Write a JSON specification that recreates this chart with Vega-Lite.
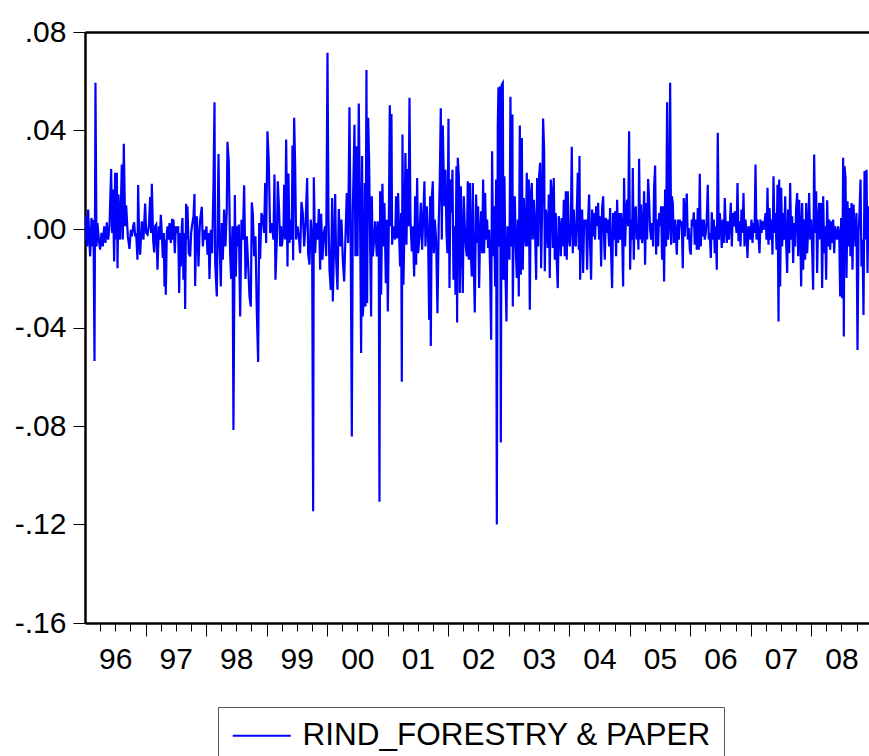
{
"$schema":"https://vega.github.io/schema/vega-lite/v6.json",
"autosize":{"type":"none"},
"padding":{"left":85,"top":32,"right":0,"bottom":133},
"width":784,
"height":591,
"background":"white",
"config":{"view":{"stroke":null},"axis":{"grid":false,"labelFont":"Liberation Sans","labelColor":"black","tickColor":"black","domainColor":"black"}},
"data":{"values":[
{"year":1996.003,"ret":-0.0043},{"year":1996.019,"ret":0.0052},{"year":1996.036,"ret":-0.0071},{"year":1996.052,"ret":0.0079},{"year":1996.069,"ret":-0.003},{"year":1996.085,"ret":-0.0111},{"year":1996.107,"ret":0.0045},{"year":1996.129,"ret":-0.0071},{"year":1996.14,"ret":0.0038},{"year":1996.157,"ret":-0.0536},{"year":1996.173,"ret":0.0594},{"year":1996.19,"ret":-0.0071},{"year":1996.206,"ret":0.0024},{"year":1996.228,"ret":-0.0043},{"year":1996.25,"ret":-0.0084},{"year":1996.272,"ret":-0.0016},{"year":1996.294,"ret":-0.0071},{"year":1996.317,"ret":0.0011},{"year":1996.339,"ret":-0.0057},{"year":1996.361,"ret":0.0027},{"year":1996.383,"ret":-0.0043},{"year":1996.405,"ret":0.0011},{"year":1996.432,"ret":0.0244},{"year":1996.449,"ret":-0.0016},{"year":1996.46,"ret":0.016},{"year":1996.482,"ret":-0.0132},{"year":1996.498,"ret":0.0228},{"year":1996.515,"ret":-0.0043},{"year":1996.526,"ret":0.0228},{"year":1996.537,"ret":-0.0159},{"year":1996.553,"ret":0.014},{"year":1996.581,"ret":-0.0043},{"year":1996.608,"ret":0.0262},{"year":1996.625,"ret":-0.0043},{"year":1996.641,"ret":0.0346},{"year":1996.663,"ret":0.0011},{"year":1996.68,"ret":0.0096},{"year":1996.708,"ret":-0.003},{"year":1996.735,"ret":-0.0081},{"year":1996.757,"ret":-0.0003},{"year":1996.774,"ret":-0.003},{"year":1996.796,"ret":0.0011},{"year":1996.812,"ret":0.0027},{"year":1996.829,"ret":-0.003},{"year":1996.845,"ret":-0.0016},{"year":1996.867,"ret":-0.0125},{"year":1996.878,"ret":0.0179},{"year":1996.895,"ret":-0.0043},{"year":1996.911,"ret":-0.0104},{"year":1996.939,"ret":0.0031},{"year":1996.966,"ret":-0.0043},{"year":1996.994,"ret":0.0103},{"year":1997.011,"ret":-0.0016},{"year":1997.033,"ret":-0.0023},{"year":1997.055,"ret":0.0011},{"year":1997.077,"ret":0.013},{"year":1997.093,"ret":-0.0016},{"year":1997.104,"ret":0.0184},{"year":1997.126,"ret":-0.0043},{"year":1997.143,"ret":-0.0095},{"year":1997.159,"ret":0.0011},{"year":1997.176,"ret":0.0018},{"year":1997.198,"ret":-0.0165},{"year":1997.22,"ret":0.0011},{"year":1997.236,"ret":-0.0043},{"year":1997.253,"ret":0.0058},{"year":1997.269,"ret":-0.0016},{"year":1997.286,"ret":-0.0118},{"year":1997.302,"ret":-0.0016},{"year":1997.313,"ret":-0.0233},{"year":1997.324,"ret":-0.0043},{"year":1997.335,"ret":-0.0267},{"year":1997.352,"ret":-0.0016},{"year":1997.363,"ret":0.0011},{"year":1997.38,"ret":-0.0043},{"year":1997.396,"ret":0.0024},{"year":1997.418,"ret":-0.0057},{"year":1997.44,"ret":0.0041},{"year":1997.451,"ret":-0.0043},{"year":1997.462,"ret":0.0038},{"year":1997.484,"ret":-0.0098},{"year":1997.501,"ret":0.0011},{"year":1997.517,"ret":-0.0016},{"year":1997.539,"ret":0.0011},{"year":1997.556,"ret":-0.026},{"year":1997.572,"ret":-0.0016},{"year":1997.583,"ret":-0.0152},{"year":1997.6,"ret":0.0011},{"year":1997.611,"ret":0.0045},{"year":1997.627,"ret":-0.0206},{"year":1997.644,"ret":-0.0016},{"year":1997.655,"ret":-0.0325},{"year":1997.671,"ret":0.0102},{"year":1997.682,"ret":-0.0043},{"year":1997.693,"ret":0.0092},{"year":1997.715,"ret":-0.0098},{"year":1997.738,"ret":-0.0111},{"year":1997.754,"ret":-0.0016},{"year":1997.771,"ret":0.0018},{"year":1997.793,"ret":0.0052},{"year":1997.809,"ret":0.0142},{"year":1997.82,"ret":-0.0231},{"year":1997.837,"ret":-0.0016},{"year":1997.848,"ret":0.0052},{"year":1997.864,"ret":-0.0043},{"year":1997.875,"ret":-0.0152},{"year":1997.892,"ret":-0.0016},{"year":1997.903,"ret":0.0038},{"year":1997.93,"ret":0.009},{"year":1997.947,"ret":-0.0071},{"year":1997.969,"ret":-0.0003},{"year":1997.985,"ret":-0.0043},{"year":1998.007,"ret":0.0011},{"year":1998.024,"ret":-0.0104},{"year":1998.041,"ret":-0.0016},{"year":1998.057,"ret":-0.0203},{"year":1998.079,"ret":-0.0003},{"year":1998.101,"ret":-0.0098},{"year":1998.123,"ret":0.018},{"year":1998.14,"ret":0.0515},{"year":1998.151,"ret":-0.0138},
{"year":1998.178,"ret":-0.0274},{"year":1998.206,"ret":0.0305},{"year":1998.222,"ret":-0.0043},{"year":1998.244,"ret":-0.0233},{"year":1998.261,"ret":0.0024},{"year":1998.277,"ret":-0.0125},{"year":1998.299,"ret":0.0079},{"year":1998.321,"ret":-0.0071},{"year":1998.343,"ret":0.0079},{"year":1998.354,"ret":0.0354},{"year":1998.376,"ret":0.0271},{"year":1998.398,"ret":-0.0098},{"year":1998.415,"ret":-0.0203},{"year":1998.437,"ret":0.0011},{"year":1998.453,"ret":-0.0816},{"year":1998.476,"ret":0.0138},{"year":1998.492,"ret":-0.0193},{"year":1998.509,"ret":0.0011},{"year":1998.525,"ret":-0.0071},{"year":1998.542,"ret":0.0018},{"year":1998.564,"ret":-0.0355},{"year":1998.586,"ret":0.0038},{"year":1998.608,"ret":-0.0043},{"year":1998.63,"ret":0.0178},{"year":1998.652,"ret":-0.0203},{"year":1998.674,"ret":-0.003},{"year":1998.696,"ret":-0.0145},{"year":1998.718,"ret":-0.0274},{"year":1998.74,"ret":-0.0315},{"year":1998.756,"ret":0.0108},{"year":1998.773,"ret":0.0065},{"year":1998.795,"ret":-0.0111},{"year":1998.817,"ret":-0.003},{"year":1998.839,"ret":-0.0335},{"year":1998.861,"ret":-0.054},{"year":1998.878,"ret":0.0024},{"year":1998.894,"ret":-0.0122},{"year":1998.916,"ret":0.0065},{"year":1998.938,"ret":0.0045},{"year":1998.96,"ret":-0.0016},{"year":1998.977,"ret":0.0187},{"year":1998.993,"ret":-0.0057},{"year":1999.015,"ret":0.0397},{"year":1999.037,"ret":0.0271},{"year":1999.059,"ret":-0.0016},{"year":1999.087,"ret":0.0024},{"year":1999.114,"ret":-0.0043},{"year":1999.131,"ret":0.0221},{"year":1999.147,"ret":-0.0206},{"year":1999.17,"ret":-0.0043},{"year":1999.186,"ret":0.0194},{"year":1999.208,"ret":0.0072},{"year":1999.225,"ret":-0.0071},{"year":1999.241,"ret":0.0011},{"year":1999.252,"ret":-0.0071},{"year":1999.28,"ret":-0.0003},{"year":1999.291,"ret":0.018},{"year":1999.307,"ret":-0.0043},{"year":1999.324,"ret":0.0363},{"year":1999.346,"ret":-0.0152},{"year":1999.362,"ret":0.0225},{"year":1999.379,"ret":-0.0057},{"year":1999.401,"ret":0.0038},{"year":1999.417,"ret":-0.0043},{"year":1999.428,"ret":0.0339},{"year":1999.439,"ret":-0.0127},{"year":1999.456,"ret":0.0452},{"year":1999.472,"ret":0.0266},{"year":1999.489,"ret":-0.0043},{"year":1999.511,"ret":0.0011},{"year":1999.533,"ret":-0.003},{"year":1999.555,"ret":-0.0098},{"year":1999.577,"ret":0.011},{"year":1999.599,"ret":0.0065},{"year":1999.621,"ret":-0.0071},{"year":1999.643,"ret":0.0011},{"year":1999.671,"ret":0.0207},{"year":1999.687,"ret":-0.0098},{"year":1999.709,"ret":-0.0145},{"year":1999.731,"ret":0.0038},{"year":1999.753,"ret":-0.0043},{"year":1999.77,"ret":-0.1146},{"year":1999.781,"ret":0.021},{"year":1999.803,"ret":-0.0098},{"year":1999.825,"ret":0.0024},{"year":1999.847,"ret":-0.0043},{"year":1999.864,"ret":0.0081},{"year":1999.886,"ret":-0.0165},{"year":1999.902,"ret":0.0062},{"year":1999.924,"ret":-0.0125},{"year":1999.946,"ret":-0.0016},{"year":1999.968,"ret":0.0011},{"year":1999.985,"ret":-0.0111},{"year":2000.007,"ret":0.0716},{"year":2000.023,"ret":0.0052},{"year":2000.04,"ret":-0.0165},{"year":2000.062,"ret":-0.0247},{"year":2000.084,"ret":0.0126},{"year":2000.095,"ret":-0.0294},{"year":2000.117,"ret":-0.0043},{"year":2000.134,"ret":0.0142},{"year":2000.15,"ret":-0.0125},{"year":2000.172,"ret":-0.0247},{"year":2000.194,"ret":0.0081},{"year":2000.216,"ret":-0.0071},{"year":2000.238,"ret":0.0038},{"year":2000.26,"ret":-0.0125},{"year":2000.282,"ret":-0.0213},
{"year":2000.326,"ret":0.0146},{"year":2000.348,"ret":-0.0057},{"year":2000.37,"ret":0.0494},{"year":2000.392,"ret":-0.0111},{"year":2000.409,"ret":-0.0843},{"year":2000.425,"ret":0.0065},{"year":2000.453,"ret":0.0423},{"year":2000.469,"ret":-0.0111},{"year":2000.491,"ret":0.0336},{"year":2000.502,"ret":-0.0111},{"year":2000.524,"ret":0.051},{"year":2000.535,"ret":0.0269},{"year":2000.546,"ret":0.0011},{"year":2000.563,"ret":-0.0504},{"year":2000.579,"ret":0.0296},{"year":2000.59,"ret":-0.0355},{"year":2000.607,"ret":-0.0274},{"year":2000.624,"ret":0.0187},{"year":2000.635,"ret":-0.0315},{"year":2000.651,"ret":0.0646},{"year":2000.662,"ret":-0.0301},{"year":2000.679,"ret":0.0452},{"year":2000.695,"ret":0.0275},{"year":2000.712,"ret":-0.0071},{"year":2000.728,"ret":-0.0355},{"year":2000.739,"ret":0.0133},{"year":2000.756,"ret":-0.0111},{"year":2000.778,"ret":-0.0043},{"year":2000.794,"ret":0.0031},{"year":2000.822,"ret":-0.0111},{"year":2000.838,"ret":0.0031},{"year":2000.855,"ret":-0.0125},{"year":2000.866,"ret":-0.1108},{"year":2000.877,"ret":0.0153},{"year":2000.893,"ret":-0.0267},{"year":2000.915,"ret":0.0184},{"year":2000.932,"ret":-0.0071},{"year":2000.948,"ret":0.0106},{"year":2000.971,"ret":-0.022},{"year":2000.987,"ret":0.0038},{"year":2001.004,"ret":-0.0335},{"year":2001.02,"ret":0.0018},{"year":2001.037,"ret":0.0503},{"year":2001.053,"ret":0.0011},{"year":2001.064,"ret":0.0467},{"year":2001.075,"ret":-0.0064},{"year":2001.097,"ret":0.0011},{"year":2001.125,"ret":-0.0043},{"year":2001.141,"ret":0.0133},{"year":2001.158,"ret":-0.0037},{"year":2001.174,"ret":0.0146},{"year":2001.191,"ret":-0.003},{"year":2001.207,"ret":-0.0152},{"year":2001.224,"ret":0.0065},{"year":2001.235,"ret":-0.062},{"year":2001.246,"ret":0.0384},{"year":2001.262,"ret":-0.0226},{"year":2001.279,"ret":0.0011},{"year":2001.295,"ret":0.0309},{"year":2001.312,"ret":-0.0064},{"year":2001.329,"ret":0.0244},{"year":2001.345,"ret":0.0011},{"year":2001.362,"ret":0.0533},{"year":2001.378,"ret":0.0038},{"year":2001.4,"ret":-0.0091},{"year":2001.417,"ret":0.0011},{"year":2001.439,"ret":-0.0193},{"year":2001.455,"ret":0.0133},{"year":2001.472,"ret":-0.0145},{"year":2001.488,"ret":0.0207},{"year":2001.505,"ret":-0.0098},{"year":2001.527,"ret":-0.003},{"year":2001.549,"ret":0.0106},{"year":2001.571,"ret":-0.0084},{"year":2001.593,"ret":0.0079},{"year":2001.609,"ret":0.0194},{"year":2001.626,"ret":-0.0071},{"year":2001.648,"ret":0.0092},{"year":2001.67,"ret":-0.0043},{"year":2001.687,"ret":-0.0369},{"year":2001.703,"ret":0.0133},{"year":2001.714,"ret":-0.0475},{"year":2001.731,"ret":0.0126},{"year":2001.747,"ret":0.0194},{"year":2001.764,"ret":-0.0098},{"year":2001.78,"ret":0.0038},{"year":2001.802,"ret":-0.0043},{"year":2001.824,"ret":-0.0342},{"year":2001.846,"ret":0.0031},{"year":2001.863,"ret":0.0207},{"year":2001.879,"ret":0.049},{"year":2001.896,"ret":-0.0043},{"year":2001.912,"ret":0.042},{"year":2001.923,"ret":0.0282},{"year":2001.94,"ret":0.0092},{"year":2001.956,"ret":0.0241},{"year":2001.973,"ret":-0.0016},{"year":2001.989,"ret":-0.0098},{"year":2002.006,"ret":0.0448},{"year":2002.023,"ret":-0.024},{"year":2002.039,"ret":0.0201},{"year":2002.056,"ret":0.0065},{"year":2002.072,"ret":0.0241},{"year":2002.089,"ret":-0.0206},{"year":2002.105,"ret":0.0011},{"year":2002.122,"ret":-0.0267},{"year":2002.138,"ret":0.0255},{"year":2002.149,"ret":-0.038},{"year":2002.16,"ret":0.0289},{"year":2002.177,"ret":0.0214},{"year":2002.193,"ret":-0.026},{"year":2002.21,"ret":0.0174},{"year":2002.226,"ret":-0.0043},{"year":2002.243,"ret":-0.026},{"year":2002.259,"ret":0.0133},{"year":2002.276,"ret":0.0011},{"year":2002.292,"ret":-0.0071},{"year":2002.309,"ret":-0.0111},{"year":2002.325,"ret":0.0194},{"year":2002.342,"ret":-0.0125},{"year":2002.359,"ret":0.0187},{"year":2002.375,"ret":-0.0098},{"year":2002.392,"ret":-0.0193},{"year":2002.408,"ret":0.0187},{"year":2002.425,"ret":-0.0152},{"year":2002.441,"ret":-0.0339},
{"year":2002.463,"ret":0.014},{"year":2002.48,"ret":-0.0057},{"year":2002.496,"ret":0.0092},{"year":2002.513,"ret":-0.024},{"year":2002.529,"ret":-0.0016},{"year":2002.546,"ret":0.0072},{"year":2002.562,"ret":-0.0098},{"year":2002.579,"ret":0.0201},{"year":2002.595,"ret":-0.0098},{"year":2002.612,"ret":0.0146},{"year":2002.628,"ret":-0.0043},{"year":2002.645,"ret":0.0038},{"year":2002.661,"ret":-0.0077},{"year":2002.678,"ret":-0.0003},{"year":2002.694,"ret":-0.0165},{"year":2002.711,"ret":-0.045},{"year":2002.727,"ret":0.0316},{"year":2002.744,"ret":-0.0111},{"year":2002.76,"ret":0.0092},{"year":2002.777,"ret":-0.0233},{"year":2002.794,"ret":0.0201},{"year":2002.805,"ret":-0.12},{"year":2002.821,"ret":0.0418},{"year":2002.832,"ret":0.0576},{"year":2002.849,"ret":-0.0071},{"year":2002.86,"ret":0.058},{"year":2002.871,"ret":-0.0867},{"year":2002.887,"ret":0.0587},{"year":2002.904,"ret":0.0594},{"year":2002.915,"ret":-0.0206},{"year":2002.931,"ret":0.0214},{"year":2002.948,"ret":-0.0179},{"year":2002.964,"ret":-0.0376},{"year":2002.981,"ret":0.0011},{"year":2002.997,"ret":-0.003},{"year":2003.014,"ret":-0.0125},{"year":2003.03,"ret":0.0537},{"year":2003.047,"ret":-0.0071},{"year":2003.063,"ret":0.0465},{"year":2003.069,"ret":-0.0315},{"year":2003.085,"ret":0.0031},{"year":2003.102,"ret":0.0133},{"year":2003.118,"ret":-0.0071},{"year":2003.135,"ret":-0.0199},{"year":2003.152,"ret":0.0038},{"year":2003.168,"ret":-0.0274},{"year":2003.185,"ret":0.042},{"year":2003.201,"ret":-0.0186},{"year":2003.218,"ret":0.037},{"year":2003.234,"ret":-0.0165},{"year":2003.251,"ret":0.0126},{"year":2003.267,"ret":-0.0016},{"year":2003.284,"ret":-0.0071},{"year":2003.3,"ret":0.0228},{"year":2003.317,"ret":-0.0071},{"year":2003.333,"ret":0.0201},{"year":2003.35,"ret":-0.0328},{"year":2003.366,"ret":0.0133},{"year":2003.383,"ret":0.0187},{"year":2003.399,"ret":-0.0043},{"year":2003.416,"ret":0.0119},{"year":2003.432,"ret":0.0038},{"year":2003.455,"ret":-0.0206},{"year":2003.471,"ret":0.0207},{"year":2003.488,"ret":-0.0071},{"year":2003.504,"ret":0.0214},{"year":2003.521,"ret":0.0269},{"year":2003.537,"ret":-0.0159},{"year":2003.554,"ret":0.0085},{"year":2003.57,"ret":0.0449},{"year":2003.587,"ret":0.032},{"year":2003.598,"ret":-0.0172},{"year":2003.614,"ret":0.0079},{"year":2003.631,"ret":0.0038},{"year":2003.647,"ret":-0.0077},{"year":2003.664,"ret":0.014},{"year":2003.68,"ret":-0.0199},{"year":2003.697,"ret":0.0201},{"year":2003.713,"ret":0.014},{"year":2003.73,"ret":-0.0077},{"year":2003.746,"ret":0.0207},{"year":2003.763,"ret":-0.0125},{"year":2003.779,"ret":0.0065},{"year":2003.796,"ret":-0.0138},{"year":2003.812,"ret":-0.024},{"year":2003.829,"ret":0.0052},{"year":2003.846,"ret":0.0011},{"year":2003.862,"ret":-0.0111},{"year":2003.879,"ret":0.0045},{"year":2003.895,"ret":-0.0071},{"year":2003.912,"ret":0.0119},{"year":2003.928,"ret":-0.0111},{"year":2003.945,"ret":0.0153},{"year":2003.961,"ret":-0.0125},{"year":2003.978,"ret":0.0153},{"year":2003.994,"ret":-0.003},{"year":2004.011,"ret":-0.0071},{"year":2004.027,"ret":0.0011},{"year":2004.044,"ret":0.0334},{"year":2004.06,"ret":-0.0098},{"year":2004.077,"ret":0.0079},{"year":2004.093,"ret":-0.0057},{"year":2004.11,"ret":-0.0071},{"year":2004.126,"ret":0.0065},{"year":2004.143,"ret":0.0228},{"year":2004.159,"ret":-0.0084},{"year":2004.171,"ret":0.0296},{"year":2004.182,"ret":-0.0206},{"year":2004.198,"ret":0.0052},{"year":2004.215,"ret":0.0079},{"year":2004.231,"ret":-0.0179},{"year":2004.248,"ret":0.0038},{"year":2004.264,"ret":0.0011},{"year":2004.281,"ret":0.0038},{"year":2004.297,"ret":-0.0165},{"year":2004.314,"ret":0.0038},{"year":2004.33,"ret":0.014},{"year":2004.347,"ret":-0.0071},{"year":2004.363,"ret":-0.0206},{"year":2004.38,"ret":0.0079},{"year":2004.396,"ret":-0.003},{"year":2004.413,"ret":0.0065},{"year":2004.429,"ret":-0.0043},{"year":2004.446,"ret":0.0092},{"year":2004.462,"ret":0.0011},{"year":2004.479,"ret":0.0106},{"year":2004.495,"ret":-0.0043},{"year":2004.512,"ret":0.0052},{"year":2004.529,"ret":-0.0152},{"year":2004.545,"ret":0.0085},{"year":2004.562,"ret":0.0133},{"year":2004.578,"ret":-0.0043},{"year":2004.589,"ret":-0.0125},
{"year":2004.606,"ret":0.0045},{"year":2004.622,"ret":-0.0016},{"year":2004.639,"ret":0.0038},{"year":2004.661,"ret":-0.0071},{"year":2004.677,"ret":0.0085},{"year":2004.694,"ret":-0.0098},{"year":2004.71,"ret":-0.024},{"year":2004.727,"ret":0.0065},{"year":2004.743,"ret":-0.0043},{"year":2004.76,"ret":0.0072},{"year":2004.776,"ret":-0.0111},{"year":2004.793,"ret":0.0119},{"year":2004.809,"ret":-0.0057},{"year":2004.826,"ret":0.0065},{"year":2004.842,"ret":-0.0043},{"year":2004.859,"ret":0.0065},{"year":2004.875,"ret":-0.0003},{"year":2004.892,"ret":-0.0233},{"year":2004.908,"ret":0.0207},{"year":2004.925,"ret":-0.0071},{"year":2004.942,"ret":0.0065},{"year":2004.958,"ret":0.0119},{"year":2004.975,"ret":0.0011},{"year":2004.991,"ret":0.0397},{"year":2005.008,"ret":-0.0165},{"year":2005.024,"ret":0.0038},{"year":2005.041,"ret":-0.0043},{"year":2005.052,"ret":0.0248},{"year":2005.068,"ret":-0.0125},{"year":2005.085,"ret":0.0065},{"year":2005.101,"ret":0.0092},{"year":2005.118,"ret":-0.0043},{"year":2005.134,"ret":0.0011},{"year":2005.145,"ret":-0.0084},{"year":2005.156,"ret":0.0285},{"year":2005.173,"ret":-0.0043},{"year":2005.189,"ret":0.0099},{"year":2005.206,"ret":-0.0057},{"year":2005.222,"ret":-0.0016},{"year":2005.239,"ret":0.0153},{"year":2005.255,"ret":-0.0145},{"year":2005.272,"ret":0.0106},{"year":2005.289,"ret":-0.0043},{"year":2005.305,"ret":0.0203},{"year":2005.322,"ret":0.0119},{"year":2005.338,"ret":-0.0003},{"year":2005.355,"ret":-0.0043},{"year":2005.371,"ret":0.0024},{"year":2005.388,"ret":-0.0071},{"year":2005.404,"ret":0.0167},{"year":2005.421,"ret":0.0258},{"year":2005.437,"ret":-0.0104},{"year":2005.454,"ret":0.0038},{"year":2005.47,"ret":-0.0071},{"year":2005.487,"ret":0.0065},{"year":2005.503,"ret":0.0011},{"year":2005.52,"ret":0.0092},{"year":2005.536,"ret":-0.0125},{"year":2005.553,"ret":0.0092},{"year":2005.569,"ret":-0.0213},{"year":2005.586,"ret":0.016},{"year":2005.602,"ret":-0.0071},{"year":2005.619,"ret":0.0515},{"year":2005.636,"ret":-0.0043},{"year":2005.652,"ret":0.0018},{"year":2005.669,"ret":0.0594},{"year":2005.685,"ret":-0.0064},{"year":2005.696,"ret":0.0133},{"year":2005.713,"ret":0.0106},{"year":2005.729,"ret":-0.0057},{"year":2005.746,"ret":0.0038},{"year":2005.762,"ret":-0.0016},{"year":2005.779,"ret":-0.0104},{"year":2005.795,"ret":0.0038},{"year":2005.812,"ret":-0.0043},{"year":2005.828,"ret":0.0038},{"year":2005.845,"ret":0.0011},{"year":2005.861,"ret":0.0031},{"year":2005.878,"ret":-0.0159},{"year":2005.894,"ret":0.0126},{"year":2005.911,"ret":-0.003},{"year":2005.927,"ret":0.0079},{"year":2005.944,"ret":0.0144},{"year":2005.96,"ret":-0.0043},{"year":2005.977,"ret":0.0004},{"year":2005.994,"ret":-0.0084},{"year":2006.01,"ret":-0.0104},{"year":2006.027,"ret":0.0038},{"year":2006.043,"ret":0.0011},{"year":2006.06,"ret":0.0068},{"year":2006.076,"ret":-0.0064},{"year":2006.093,"ret":0.0038},{"year":2006.109,"ret":-0.0084},{"year":2006.126,"ret":0.0085},{"year":2006.142,"ret":-0.0084},{"year":2006.159,"ret":0.0224},{"year":2006.175,"ret":-0.0071},{"year":2006.192,"ret":0.0038},{"year":2006.208,"ret":-0.003},{"year":2006.225,"ret":0.0038},{"year":2006.241,"ret":-0.0043},{"year":2006.258,"ret":-0.0016},{"year":2006.274,"ret":0.0038},{"year":2006.291,"ret":0.018},{"year":2006.307,"ret":-0.0043},{"year":2006.324,"ret":-0.0016},{"year":2006.341,"ret":-0.0118},{"year":2006.357,"ret":0.0068},{"year":2006.374,"ret":-0.0043},{"year":2006.39,"ret":0.0038},{"year":2006.407,"ret":-0.0098},{"year":2006.423,"ret":0.0011},{"year":2006.44,"ret":-0.0165},{"year":2006.456,"ret":0.0391},{"year":2006.473,"ret":-0.0043},{"year":2006.489,"ret":0.0065},{"year":2006.506,"ret":0.0011},{"year":2006.522,"ret":-0.0077},{"year":2006.539,"ret":0.0038},{"year":2006.555,"ret":-0.0057},{"year":2006.572,"ret":0.0126},{"year":2006.588,"ret":0.0011},{"year":2006.605,"ret":-0.0057},{"year":2006.621,"ret":0.0031},{"year":2006.638,"ret":-0.0043},{"year":2006.654,"ret":0.0011},{"year":2006.671,"ret":0.0106},{"year":2006.688,"ret":-0.0071},{"year":2006.704,"ret":0.0065},{"year":2006.721,"ret":0.0011},{"year":2006.737,"ret":0.0072},
{"year":2006.766,"ret":-0.0016},{"year":2006.782,"ret":0.0187},{"year":2006.799,"ret":-0.005},{"year":2006.815,"ret":0.0031},{"year":2006.832,"ret":-0.0071},{"year":2006.848,"ret":0.0079},{"year":2006.865,"ret":-0.0016},{"year":2006.881,"ret":0.0146},{"year":2006.898,"ret":-0.0071},{"year":2006.914,"ret":0.0038},{"year":2006.931,"ret":-0.0016},{"year":2006.947,"ret":-0.0118},{"year":2006.964,"ret":0.0011},{"year":2006.98,"ret":-0.0009},{"year":2006.997,"ret":-0.0043},{"year":2007.013,"ret":0.0038},{"year":2007.03,"ret":-0.0057},{"year":2007.046,"ret":0.0024},{"year":2007.063,"ret":-0.0016},{"year":2007.08,"ret":0.0262},{"year":2007.096,"ret":-0.0043},{"year":2007.113,"ret":0.0038},{"year":2007.129,"ret":-0.003},{"year":2007.146,"ret":-0.0098},{"year":2007.162,"ret":0.0038},{"year":2007.179,"ret":-0.0016},{"year":2007.195,"ret":0.0031},{"year":2007.212,"ret":-0.0003},{"year":2007.228,"ret":0.0024},{"year":2007.245,"ret":0.0065},{"year":2007.261,"ret":-0.0043},{"year":2007.278,"ret":0.0167},{"year":2007.294,"ret":-0.0064},{"year":2007.311,"ret":0.0085},{"year":2007.327,"ret":-0.0043},{"year":2007.344,"ret":0.0038},{"year":2007.36,"ret":-0.0104},{"year":2007.377,"ret":0.0214},{"year":2007.393,"ret":-0.0016},{"year":2007.41,"ret":0.0065},{"year":2007.427,"ret":-0.0084},{"year":2007.443,"ret":0.018},{"year":2007.46,"ret":-0.0376},{"year":2007.471,"ret":0.0201},{"year":2007.487,"ret":-0.0233},{"year":2007.504,"ret":0.0167},{"year":2007.52,"ret":-0.0071},{"year":2007.537,"ret":0.0065},{"year":2007.553,"ret":-0.0043},{"year":2007.57,"ret":0.0133},{"year":2007.586,"ret":-0.0057},{"year":2007.603,"ret":-0.0179},{"year":2007.619,"ret":0.0079},{"year":2007.636,"ret":-0.0098},{"year":2007.652,"ret":0.0187},{"year":2007.669,"ret":-0.0043},{"year":2007.685,"ret":0.0052},{"year":2007.702,"ret":-0.0138},{"year":2007.718,"ret":0.0024},{"year":2007.735,"ret":-0.0071},{"year":2007.751,"ret":0.0085},{"year":2007.768,"ret":0.0146},{"year":2007.785,"ret":-0.0111},{"year":2007.801,"ret":0.0119},{"year":2007.818,"ret":0.0011},{"year":2007.834,"ret":-0.0233},{"year":2007.851,"ret":0.0106},{"year":2007.867,"ret":-0.0165},{"year":2007.884,"ret":0.0038},{"year":2007.9,"ret":-0.0125},{"year":2007.917,"ret":0.0106},{"year":2007.933,"ret":-0.0098},{"year":2007.95,"ret":-0.0003},{"year":2007.966,"ret":0.0146},{"year":2007.983,"ret":-0.0043},{"year":2007.999,"ret":0.0038},{"year":2008.016,"ret":-0.0084},{"year":2008.032,"ret":-0.0247},{"year":2008.049,"ret":0.0302},{"year":2008.065,"ret":-0.0016},{"year":2008.082,"ret":0.0153},{"year":2008.098,"ret":-0.0179},{"year":2008.115,"ret":0.0038},{"year":2008.132,"ret":0.0106},{"year":2008.148,"ret":-0.0043},{"year":2008.165,"ret":0.0106},{"year":2008.181,"ret":-0.024},{"year":2008.198,"ret":0.0133},{"year":2008.214,"ret":-0.0098},{"year":2008.231,"ret":0.0011},{"year":2008.247,"ret":-0.0206},{"year":2008.264,"ret":0.0117},{"year":2008.28,"ret":-0.0071},{"year":2008.297,"ret":0.0038},{"year":2008.313,"ret":-0.0084},{"year":2008.33,"ret":0.0031},{"year":2008.346,"ret":-0.0057},{"year":2008.363,"ret":0.0038},{"year":2008.38,"ret":-0.0098},{"year":2008.396,"ret":0.0011},{"year":2008.413,"ret":-0.0016},{"year":2008.429,"ret":-0.0043},{"year":2008.446,"ret":0.0011},{"year":2008.462,"ret":-0.0016},{"year":2008.479,"ret":-0.0274},{"year":2008.495,"ret":0.0045},{"year":2008.512,"ret":-0.0281},{"year":2008.528,"ret":0.0289},{"year":2008.539,"ret":-0.0437},{"year":2008.55,"ret":0.0255},{"year":2008.567,"ret":0.0207},{"year":2008.583,"ret":-0.0199},{"year":2008.6,"ret":0.0113},{"year":2008.616,"ret":-0.0071},{"year":2008.633,"ret":0.0085},{"year":2008.649,"ret":-0.0111},{"year":2008.666,"ret":0.0106},{"year":2008.682,"ret":-0.0165},{"year":2008.699,"ret":0.0099},{"year":2008.715,"ret":0.0011},{"year":2008.732,"ret":-0.0071},{"year":2008.748,"ret":0.0065},{"year":2008.765,"ret":-0.0491},{"year":2008.782,"ret":-0.0016},{"year":2008.798,"ret":0.0065},{"year":2008.815,"ret":0.0201},{"year":2008.831,"ret":-0.0152},{"year":2008.848,"ret":-0.0043},{"year":2008.864,"ret":-0.0349},{"year":2008.881,"ret":0.0235},{"year":2008.897,"ret":-0.0043},{"year":2008.914,"ret":0.0241},{"year":2008.93,"ret":-0.0179},{"year":2008.947,"ret":0.0092}
]},
"resolve":{"axis":{"x":"independent"}},
"layer":[
{"mark":{"type":"line","color":"#0000ff","strokeWidth":2.2,"clip":true,"strokeJoin":"miter"},
 "encoding":{
  "x":{"field":"year","type":"quantitative","scale":{"domain":[1996,2008.955],"nice":false,"zero":false},
   "axis":{"orient":"bottom","title":null,"values":[1997,1998,1999,2000,2001,2002,2003,2004,2005,2006,2007,2008],"labels":false,"tickSize":13,"tickWidth":1,"domainWidth":2.5}},
  "y":{"field":"ret","type":"quantitative","scale":{"domain":[-0.16,0.08],"nice":false,"zero":false},
   "axis":{"title":null,"values":[-0.16,-0.12,-0.08,-0.04,0,0.04,0.08],"tickSize":12,"tickWidth":1,"domainWidth":2.5,"labelFontSize":30,"labelPadding":7,"labelExpr":"(datum.value < 0 ? '-' : '') + replace(format(abs(datum.value), '.2f'), '0.', '.')"}},
  "color":{"datum":"RIND_FORESTRY & PAPER","type":"nominal","scale":{"range":["#0000ff"]},
   "legend":{"title":null,"orient":"none","legendX":133,"legendY":675,"padding":13,"strokeColor":"#555555","fillColor":"white","symbolType":"M-3,0H3","symbolSize":374,"symbolStrokeWidth":2,"symbolOffset":15,"labelOffset":25,"labelFontSize":31.5,"labelFont":"Liberation Sans","labelColor":"black","labelLimit":0}}
 }},
{"mark":{"type":"rule","opacity":0},
 "encoding":{"x":{"datum":2000,"type":"quantitative","axis":{"orient":"bottom","title":null,"domain":false,"labels":false,"tickSize":8,"tickWidth":1,
  "values":[1996.25,1996.5,1996.75,1997.25,1997.5,1997.75,1998.25,1998.5,1998.75,1999.25,1999.5,1999.75,2000.25,2000.5,2000.75,2001.25,2001.5,2001.75,2002.25,2002.5,2002.75,2003.25,2003.5,2003.75,2004.25,2004.5,2004.75,2005.25,2005.5,2005.75,2006.25,2006.5,2006.75,2007.25,2007.5,2007.75,2008.25,2008.5,2008.75]}}}},
{"mark":{"type":"rule","opacity":0},
 "encoding":{"x":{"datum":2000,"type":"quantitative","axis":{"orient":"bottom","title":null,"domain":false,"ticks":false,"tickSize":0,"labelPadding":21,"labelFontSize":30,"labelFlush":false,"labelOverlap":false,
  "values":[1996.5,1997.5,1998.5,1999.5,2000.5,2001.5,2002.5,2003.5,2004.5,2005.5,2006.5,2007.5,2008.5],
  "labelExpr":"slice(toString(floor(datum.value)), 2)"}}}},
{"mark":{"type":"rule","opacity":0},
 "encoding":{"x":{"datum":2000,"type":"quantitative","axis":{"orient":"top","title":null,"domain":true,"domainWidth":2.5,"ticks":false,"labels":false}}}}
]
}
